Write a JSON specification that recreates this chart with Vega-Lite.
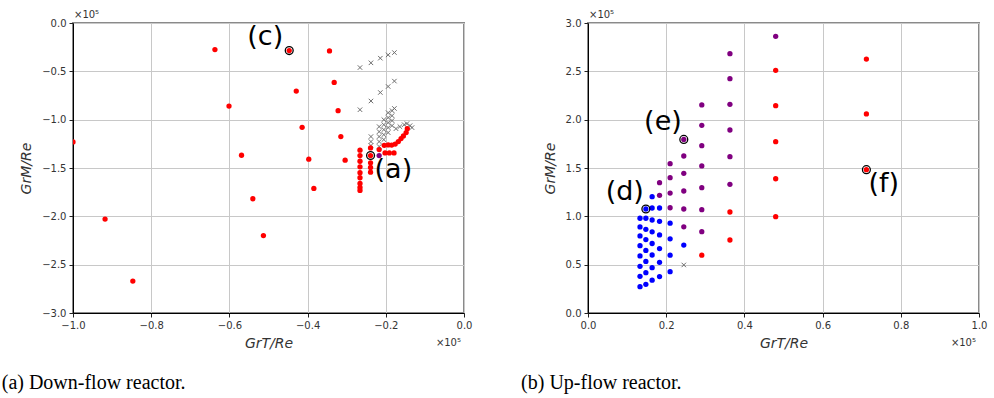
{
  "$schema": "https://vega.github.io/schema/vega-lite/v6.json",
  "background": "white",
  "padding": {"left": 0, "top": 9, "right": 5, "bottom": 5},
  "config": {
    "view": {"stroke": "#8a8a8a", "strokeWidth": 2},
    "axis": {
      "grid": true, "gridColor": "#c8c8c8", "gridWidth": 1,
      "domainColor": "#000000", "domainWidth": 1,
      "tickColor": "#222222", "tickSize": 4,
      "labelFont": "DejaVu Sans", "labelFontSize": 10, "labelColor": "#333333", "labelPadding": 3,
      "labelFlush": false, "labelOverlap": false,
      "titleFont": "DejaVu Sans", "titleFontStyle": "italic", "titleFontWeight": "normal",
      "titleFontSize": 14, "titleColor": "#333333", "zindex": 1
    },
    "concat": {"spacing": 47}
  },
  "datasets": {
    "downCross": [
      {"gx": -0.266, "gy": -0.461}, {"gx": -0.238, "gy": -0.412}, {"gx": -0.214, "gy": -0.364}, {"gx": -0.194, "gy": -0.330}, {"gx": -0.178, "gy": -0.306},
      {"gx": -0.266, "gy": -0.897}, {"gx": -0.238, "gy": -0.807}, {"gx": -0.214, "gy": -0.719}, {"gx": -0.194, "gy": -0.657}, {"gx": -0.178, "gy": -0.601},
      {"gx": -0.178, "gy": -0.884},
      {"gx": -0.238, "gy": -1.175}, {"gx": -0.238, "gy": -1.227}, {"gx": -0.238, "gy": -1.268},
      {"gx": -0.217, "gy": -1.072}, {"gx": -0.217, "gy": -1.124}, {"gx": -0.217, "gy": -1.175}, {"gx": -0.217, "gy": -1.227}, {"gx": -0.217, "gy": -1.278},
      {"gx": -0.205, "gy": -1.000}, {"gx": -0.205, "gy": -1.052}, {"gx": -0.205, "gy": -1.103}, {"gx": -0.205, "gy": -1.155}, {"gx": -0.205, "gy": -1.206},
      {"gx": -0.194, "gy": -0.928}, {"gx": -0.194, "gy": -0.979}, {"gx": -0.194, "gy": -1.031}, {"gx": -0.194, "gy": -1.082}, {"gx": -0.194, "gy": -1.134},
      {"gx": -0.184, "gy": -0.907}, {"gx": -0.184, "gy": -0.959}, {"gx": -0.184, "gy": -1.010}, {"gx": -0.184, "gy": -1.062},
      {"gx": -0.174, "gy": -1.093}, {"gx": -0.164, "gy": -1.072}, {"gx": -0.153, "gy": -1.052}, {"gx": -0.146, "gy": -1.041}, {"gx": -0.138, "gy": -1.062}, {"gx": -0.133, "gy": -1.082}
    ],
    "downDots": [
      {"gx": -0.637, "gy": -0.275, "kind": "red"}, {"gx": -0.447, "gy": -0.285, "kind": "red"}, {"gx": -0.344, "gy": -0.289, "kind": "red"},
      {"gx": -0.429, "gy": -0.704, "kind": "red"}, {"gx": -0.601, "gy": -0.859, "kind": "red"}, {"gx": -0.332, "gy": -0.615, "kind": "red"},
      {"gx": -0.322, "gy": -0.907, "kind": "red"}, {"gx": -0.414, "gy": -1.079, "kind": "red"}, {"gx": -0.315, "gy": -1.175, "kind": "red"},
      {"gx": -0.569, "gy": -1.368, "kind": "red"}, {"gx": -0.397, "gy": -1.409, "kind": "red"}, {"gx": -0.304, "gy": -1.419, "kind": "red"},
      {"gx": -1.0, "gy": -1.23, "kind": "red"}, {"gx": -0.918, "gy": -2.028, "kind": "red"}, {"gx": -0.847, "gy": -2.670, "kind": "red"},
      {"gx": -0.540, "gy": -1.818, "kind": "red"}, {"gx": -0.513, "gy": -2.199, "kind": "red"}, {"gx": -0.384, "gy": -1.711, "kind": "red"},
      {"gx": -0.266, "gy": -1.316, "kind": "red"}, {"gx": -0.266, "gy": -1.371, "kind": "red"}, {"gx": -0.266, "gy": -1.430, "kind": "red"},
      {"gx": -0.266, "gy": -1.488, "kind": "red"}, {"gx": -0.266, "gy": -1.549, "kind": "red"}, {"gx": -0.266, "gy": -1.601, "kind": "red"},
      {"gx": -0.266, "gy": -1.660, "kind": "red"}, {"gx": -0.266, "gy": -1.701, "kind": "red"}, {"gx": -0.266, "gy": -1.732, "kind": "red"},
      {"gx": -0.239, "gy": -1.292, "kind": "red"}, {"gx": -0.239, "gy": -1.371, "kind": "red"}, {"gx": -0.239, "gy": -1.446, "kind": "red"},
      {"gx": -0.239, "gy": -1.495, "kind": "red"}, {"gx": -0.239, "gy": -1.543, "kind": "red"},
      {"gx": -0.217, "gy": -1.309, "kind": "red"}, {"gx": -0.217, "gy": -1.371, "kind": "purple"},
      {"gx": -0.204, "gy": -1.265, "kind": "red"}, {"gx": -0.194, "gy": -1.261, "kind": "red"}, {"gx": -0.185, "gy": -1.263, "kind": "red"},
      {"gx": -0.176, "gy": -1.253, "kind": "red"}, {"gx": -0.168, "gy": -1.227, "kind": "red"}, {"gx": -0.161, "gy": -1.196, "kind": "red"},
      {"gx": -0.155, "gy": -1.168, "kind": "red"}, {"gx": -0.148, "gy": -1.134, "kind": "red"}, {"gx": -0.145, "gy": -1.093, "kind": "red"},
      {"gx": -0.202, "gy": -1.344, "kind": "red"}, {"gx": -0.191, "gy": -1.344, "kind": "red"}, {"gx": -0.179, "gy": -1.344, "kind": "red"}
    ],
    "downHL": [
      {"gx": -0.447, "gy": -0.285, "label": "(c)"},
      {"gx": -0.239, "gy": -1.371, "label": "(a)"}
    ],
    "upCross": [
      {"gx": 0.245, "gy": 0.497}
    ],
    "upDots": [
      {"gx": 0.133, "gy": 0.980, "kind": "blue"}, {"gx": 0.133, "gy": 0.890, "kind": "blue"}, {"gx": 0.133, "gy": 0.797, "kind": "blue"}, {"gx": 0.133, "gy": 0.696, "kind": "blue"},
      {"gx": 0.133, "gy": 0.590, "kind": "blue"}, {"gx": 0.133, "gy": 0.483, "kind": "blue"}, {"gx": 0.133, "gy": 0.379, "kind": "blue"}, {"gx": 0.133, "gy": 0.272, "kind": "blue"},
      {"gx": 0.148, "gy": 1.076, "kind": "blue"}, {"gx": 0.148, "gy": 0.980, "kind": "blue"}, {"gx": 0.148, "gy": 0.866, "kind": "blue"}, {"gx": 0.148, "gy": 0.760, "kind": "blue"},
      {"gx": 0.148, "gy": 0.647, "kind": "blue"}, {"gx": 0.148, "gy": 0.534, "kind": "blue"}, {"gx": 0.148, "gy": 0.417, "kind": "blue"}, {"gx": 0.148, "gy": 0.297, "kind": "blue"},
      {"gx": 0.164, "gy": 1.203, "kind": "blue"}, {"gx": 0.164, "gy": 1.086, "kind": "blue"}, {"gx": 0.164, "gy": 0.962, "kind": "blue"}, {"gx": 0.164, "gy": 0.840, "kind": "blue"},
      {"gx": 0.164, "gy": 0.719, "kind": "blue"}, {"gx": 0.164, "gy": 0.600, "kind": "blue"}, {"gx": 0.164, "gy": 0.469, "kind": "blue"}, {"gx": 0.164, "gy": 0.340, "kind": "blue"},
      {"gx": 0.183, "gy": 1.348, "kind": "purple"}, {"gx": 0.183, "gy": 1.217, "kind": "purple"}, {"gx": 0.183, "gy": 1.086, "kind": "blue"}, {"gx": 0.183, "gy": 0.948, "kind": "blue"},
      {"gx": 0.183, "gy": 0.808, "kind": "blue"}, {"gx": 0.183, "gy": 0.667, "kind": "blue"}, {"gx": 0.183, "gy": 0.524, "kind": "blue"}, {"gx": 0.183, "gy": 0.377, "kind": "blue"},
      {"gx": 0.210, "gy": 1.545, "kind": "purple"}, {"gx": 0.210, "gy": 1.400, "kind": "purple"}, {"gx": 0.210, "gy": 1.241, "kind": "purple"}, {"gx": 0.210, "gy": 1.089, "kind": "purple"},
      {"gx": 0.210, "gy": 0.929, "kind": "blue"}, {"gx": 0.210, "gy": 0.767, "kind": "blue"}, {"gx": 0.210, "gy": 0.598, "kind": "blue"}, {"gx": 0.210, "gy": 0.427, "kind": "blue"},
      {"gx": 0.245, "gy": 1.796, "kind": "purple"}, {"gx": 0.245, "gy": 1.624, "kind": "purple"}, {"gx": 0.245, "gy": 1.445, "kind": "purple"}, {"gx": 0.245, "gy": 1.262, "kind": "purple"},
      {"gx": 0.245, "gy": 1.076, "kind": "purple"}, {"gx": 0.245, "gy": 0.891, "kind": "purple"}, {"gx": 0.245, "gy": 0.703, "kind": "blue"},
      {"gx": 0.291, "gy": 2.152, "kind": "purple"}, {"gx": 0.291, "gy": 1.941, "kind": "purple"}, {"gx": 0.291, "gy": 1.731, "kind": "purple"}, {"gx": 0.291, "gy": 1.521, "kind": "purple"},
      {"gx": 0.291, "gy": 1.296, "kind": "purple"}, {"gx": 0.291, "gy": 1.069, "kind": "purple"}, {"gx": 0.291, "gy": 0.841, "kind": "purple"}, {"gx": 0.291, "gy": 0.598, "kind": "red"},
      {"gx": 0.363, "gy": 2.683, "kind": "purple"}, {"gx": 0.363, "gy": 2.424, "kind": "purple"}, {"gx": 0.363, "gy": 2.159, "kind": "purple"}, {"gx": 0.363, "gy": 1.893, "kind": "purple"},
      {"gx": 0.363, "gy": 1.617, "kind": "purple"}, {"gx": 0.363, "gy": 1.331, "kind": "purple"}, {"gx": 0.363, "gy": 1.045, "kind": "red"}, {"gx": 0.363, "gy": 0.755, "kind": "red"},
      {"gx": 0.480, "gy": 2.862, "kind": "purple"}, {"gx": 0.480, "gy": 2.510, "kind": "red"}, {"gx": 0.480, "gy": 2.145, "kind": "red"}, {"gx": 0.480, "gy": 1.772, "kind": "red"},
      {"gx": 0.480, "gy": 1.389, "kind": "red"}, {"gx": 0.480, "gy": 0.996, "kind": "red"},
      {"gx": 0.712, "gy": 2.627, "kind": "red"}, {"gx": 0.712, "gy": 2.059, "kind": "red"}, {"gx": 0.712, "gy": 1.483, "kind": "red"}
    ],
    "upHL": [
      {"gx": 0.148, "gy": 1.076, "label": "(d)"},
      {"gx": 0.245, "gy": 1.796, "label": "(e)"},
      {"gx": 0.712, "gy": 1.483, "label": "(f)"}
    ]
  },
  "hconcat": [
    {
      "width": 391, "height": 290,
      "title": {"text": "(a) Down-flow reactor.", "orient": "bottom", "anchor": "start", "frame": "bounds", "font": "Liberation Serif", "fontSize": 20, "fontWeight": "normal", "color": "#000000", "offset": 23, "dx": -18},
      "layer": [
        {
          "data": {"name": "downCross"},
          "mark": {"type": "point", "shape": "M-1,-1L1,1M1,-1L-1,1", "filled": false, "stroke": "#6e6e6e", "strokeWidth": 1, "size": 20, "opacity": 1, "clip": true},
          "encoding": {
            "x": {"field": "gx", "type": "quantitative", "scale": {"domain": [-1, 0], "nice": false, "zero": false},
                  "axis": {"values": [-1, -0.8, -0.6, -0.4, -0.2, 0], "format": ".1f", "title": "GrT/Re", "titlePadding": 6}},
            "y": {"field": "gy", "type": "quantitative", "scale": {"domain": [-3, 0], "nice": false, "zero": false},
                  "axis": {"values": [-3, -2.5, -2, -1.5, -1, -0.5, 0], "format": ".1f", "title": "GrM/Re", "titlePadding": 8}}
          }
        },
        {
          "data": {"name": "downDots"},
          "mark": {"type": "circle", "size": 28, "opacity": 1, "clip": true},
          "encoding": {
            "x": {"field": "gx", "type": "quantitative"},
            "y": {"field": "gy", "type": "quantitative"},
            "color": {"field": "kind", "type": "nominal", "scale": {"domain": ["red", "purple", "blue"], "range": ["#ff0000", "#800080", "#0000ff"]}, "legend": null}
          }
        },
        {
          "data": {"name": "downHL"},
          "mark": {"type": "point", "shape": "circle", "filled": false, "stroke": "#000000", "strokeWidth": 1.3, "size": 62, "opacity": 1},
          "encoding": {"x": {"field": "gx", "type": "quantitative"}, "y": {"field": "gy", "type": "quantitative"}}
        },
        {
          "data": {"name": "downHL"},
          "transform": [{"filter": "datum.label == '(c)'"}],
          "mark": {"type": "text", "font": "DejaVu Sans", "fontSize": 27, "align": "right", "baseline": "bottom", "dx": -6, "dy": 0, "color": "#000000"},
          "encoding": {"x": {"field": "gx", "type": "quantitative"}, "y": {"field": "gy", "type": "quantitative"}, "text": {"field": "label"}}
        },
        {
          "data": {"name": "downHL"},
          "transform": [{"filter": "datum.label == '(a)'"}],
          "mark": {"type": "text", "font": "DejaVu Sans", "fontSize": 27, "align": "left", "baseline": "top", "dx": 4, "dy": 1, "color": "#000000"},
          "encoding": {"x": {"field": "gx", "type": "quantitative"}, "y": {"field": "gy", "type": "quantitative"}, "text": {"field": "label"}}
        },
        {
          "data": {"values": [{"t": "×10⁵"}]},
          "mark": {"type": "text", "font": "DejaVu Sans", "fontSize": 10, "align": "left", "baseline": "alphabetic", "dx": 1, "dy": -5, "color": "#333333"},
          "encoding": {"x": {"datum": -1}, "y": {"datum": 0}, "text": {"field": "t"}}
        },
        {
          "data": {"values": [{"t": "×10⁵"}]},
          "mark": {"type": "text", "font": "DejaVu Sans", "fontSize": 10, "align": "right", "baseline": "alphabetic", "dx": -3, "dy": 33, "color": "#333333"},
          "encoding": {"x": {"datum": 0}, "y": {"datum": -3}, "text": {"field": "t"}}
        }
      ]
    },
    {
      "width": 391, "height": 290,
      "title": {"text": "(b) Up-flow reactor.", "orient": "bottom", "anchor": "start", "frame": "bounds", "font": "Liberation Serif", "fontSize": 20, "fontWeight": "normal", "color": "#000000", "offset": 23, "dx": -22},
      "layer": [
        {
          "data": {"name": "upCross"},
          "mark": {"type": "point", "shape": "M-1,-1L1,1M1,-1L-1,1", "filled": false, "stroke": "#6e6e6e", "strokeWidth": 1, "size": 20, "opacity": 1, "clip": true},
          "encoding": {
            "x": {"field": "gx", "type": "quantitative", "scale": {"domain": [0, 1], "nice": false},
                  "axis": {"values": [0, 0.2, 0.4, 0.6, 0.8, 1], "format": ".1f", "title": "GrT/Re", "titlePadding": 6}},
            "y": {"field": "gy", "type": "quantitative", "scale": {"domain": [0, 3], "nice": false},
                  "axis": {"values": [0, 0.5, 1, 1.5, 2, 2.5, 3], "format": ".1f", "title": "GrM/Re", "titlePadding": 8}}
          }
        },
        {
          "data": {"name": "upDots"},
          "mark": {"type": "circle", "size": 28, "opacity": 1, "clip": true},
          "encoding": {
            "x": {"field": "gx", "type": "quantitative"},
            "y": {"field": "gy", "type": "quantitative"},
            "color": {"field": "kind", "type": "nominal", "scale": {"domain": ["red", "purple", "blue"], "range": ["#ff0000", "#800080", "#0000ff"]}, "legend": null}
          }
        },
        {
          "data": {"name": "upHL"},
          "mark": {"type": "point", "shape": "circle", "filled": false, "stroke": "#000000", "strokeWidth": 1.3, "size": 62, "opacity": 1},
          "encoding": {"x": {"field": "gx", "type": "quantitative"}, "y": {"field": "gy", "type": "quantitative"}}
        },
        {
          "data": {"name": "upHL"},
          "transform": [{"filter": "datum.label != '(f)'"}],
          "mark": {"type": "text", "font": "DejaVu Sans", "fontSize": 27, "align": "right", "baseline": "bottom", "dx": -2, "dy": -3, "color": "#000000"},
          "encoding": {"x": {"field": "gx", "type": "quantitative"}, "y": {"field": "gy", "type": "quantitative"}, "text": {"field": "label"}}
        },
        {
          "data": {"name": "upHL"},
          "transform": [{"filter": "datum.label == '(f)'"}],
          "mark": {"type": "text", "font": "DejaVu Sans", "fontSize": 27, "align": "left", "baseline": "top", "dx": 2, "dy": 1, "color": "#000000"},
          "encoding": {"x": {"field": "gx", "type": "quantitative"}, "y": {"field": "gy", "type": "quantitative"}, "text": {"field": "label"}}
        },
        {
          "data": {"values": [{"t": "×10⁵"}]},
          "mark": {"type": "text", "font": "DejaVu Sans", "fontSize": 10, "align": "left", "baseline": "alphabetic", "dx": 1, "dy": -5, "color": "#333333"},
          "encoding": {"x": {"datum": 0}, "y": {"datum": 3}, "text": {"field": "t"}}
        },
        {
          "data": {"values": [{"t": "×10⁵"}]},
          "mark": {"type": "text", "font": "DejaVu Sans", "fontSize": 10, "align": "right", "baseline": "alphabetic", "dx": -3, "dy": 33, "color": "#333333"},
          "encoding": {"x": {"datum": 1}, "y": {"datum": 0}, "text": {"field": "t"}}
        }
      ]
    }
  ]
}
